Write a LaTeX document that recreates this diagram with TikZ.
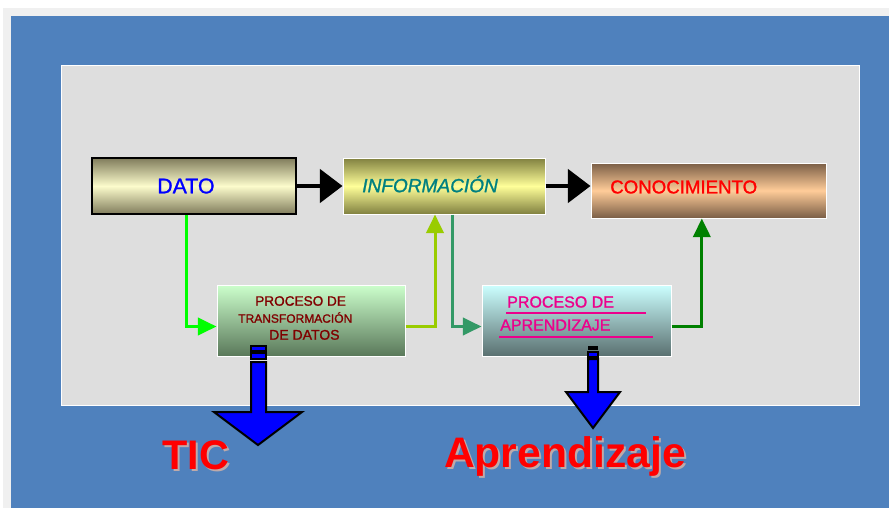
\documentclass[tikz,border=0pt]{standalone}
\usepackage{fontspec}
\setmainfont{Liberation Sans}
\newfontfamily\grueso[FakeBold=1.2]{Liberation Sans}
\usetikzlibrary{arrows.meta}
\definecolor{fondo}{RGB}{79,129,189}
\definecolor{gris}{RGB}{240,240,240}
\definecolor{panel}{RGB}{222,222,222}
\definecolor{khaki}{RGB}{128,124,92}
\definecolor{crema}{RGB}{252,252,204}
\definecolor{olivo}{RGB}{128,128,64}
\definecolor{amarillo}{RGB}{255,255,153}
\definecolor{cafe}{RGB}{122,94,70}
\definecolor{durazno}{RGB}{255,204,153}
\definecolor{verdeclaro}{RGB}{204,255,204}
\definecolor{verdegris}{RGB}{90,120,90}
\definecolor{celeste}{RGB}{204,255,255}
\definecolor{azulgris}{RGB}{90,112,112}
\definecolor{verde}{RGB}{0,255,0}
\definecolor{amarverde}{RGB}{153,204,0}
\definecolor{marverde}{RGB}{51,153,102}
\definecolor{verdeosc}{RGB}{0,128,0}
\definecolor{azul}{RGB}{0,0,255}
\definecolor{teal}{RGB}{0,128,128}
\definecolor{granate}{RGB}{128,0,0}
\definecolor{sombra}{RGB}{190,170,170}

\begin{document}
\begin{tikzpicture}[x=0.75pt,y=-0.75pt,
  caja/.style={draw=white,line width=.75pt,inner sep=0pt},
  texto/.style={anchor=west,inner sep=0pt},
  flecha/.style={line width=3pt,-{Triangle[length=17pt,width=25pt]}},
  conector/.style={line width=2.25pt,-{Triangle[length=14pt,width=13pt]}},
  bloque/.style={draw=black,line width=1.5pt,fill=azul},
  titulo/.style={font=\fontsize{31}{36}\selectfont\bfseries}]
\useasboundingbox (0,0) rectangle (889,508);
\fill[white] (0,0) rectangle (889,508);
\fill[gris] (3,8) rectangle (889,508);
\fill[fondo] (11,16) rectangle (889,508);
\draw[white,fill=panel,line width=.75pt] (61,65) rectangle (859,405);

% cajas
\node[caja,draw=black,line width=1.5pt,minimum width=153pt,minimum height=42pt,
  top color=khaki,bottom color=khaki,middle color=crema] (dato) at (194,186) {};
\node[caja,minimum width=151.5pt,minimum height=42pt,
  top color=olivo,bottom color=olivo,middle color=amarillo] (info) at (444,186) {};
\node[caja,minimum width=176.25pt,minimum height=41.25pt,
  top color=cafe,bottom color=cafe,middle color=durazno] (conoc) at (708.5,190.5) {};
\node[caja,minimum width=141pt,minimum height=53.25pt,
  top color=verdeclaro,bottom color=verdegris] (transf) at (311,320.5) {};
\node[caja,minimum width=141.75pt,minimum height=53.25pt,
  top color=celeste,bottom color=azulgris] (aprend) at (576.5,320.5) {};

% textos
\node[texto,text=azul,font=\grueso\fontsize{16}{19}\selectfont] (tdato) at (157,186) {DATO};
\node[texto,text=teal,font=\grueso\fontsize{14.3}{17}\selectfont\itshape] (tinfo) at (362,184) {INFORMACIÓN};
\node[texto,text=red,font=\grueso\fontsize{14}{17}\selectfont] (tconoc) at (610,187) {CONOCIMIENTO};
\node[texto,text=granate,align=left,font=\grueso\fontsize{10.2}{12.75}\selectfont] (ttransf) at (238,318)
  {\hspace*{12.75pt}PROCESO DE\\{\fontsize{9}{12.75}\selectfont TRANSFORMACIÓN}\\\hspace*{23.25pt}{\fontsize{10.5}{12.75}\selectfont DE DATOS}};
\node[texto,text=magenta,align=left,font=\grueso\fontsize{12}{17.25}\selectfont] (taprend) at (500,313.5)
  {\hspace*{5.25pt}PROCESO DE\\APRENDIZAJE};
\draw[magenta,line width=1.2pt] (506,313) -- (646,313);
\draw[magenta,line width=1.2pt] (499,337) -- (653,337);

% flechas
\draw[flecha] (dato.east) -- (info.west);
\draw[flecha] (info.east) -- (info.east -| conoc.west);
\draw[conector,verde] ([xshift=-6pt]dato.south) |- ([yshift=-4.5pt]transf.west);
\draw[conector,amarverde] ([yshift=-4.5pt]transf.east) -| ([xshift=-6.75pt]info.south);
\draw[conector,marverde] ([xshift=6pt]info.south) |- ([yshift=-4.5pt]aprend.west);
\draw[conector,verdeosc] ([yshift=-4.5pt]aprend.east) -| ([xshift=-5pt]conoc.south);

% flechas de bloque
\draw[bloque] (251,346) rectangle (266,351);
\draw[bloque] (251,353) rectangle (266,359);
\draw[bloque] (251,362) -- (266,362) -- (266,412) -- (302,412) -- (258,445) -- (214,412) -- (251,412) -- cycle;
\fill[black] (588,346) rectangle (598,350);
\draw[bloque] (588,352) rectangle (598,357);
\draw[bloque] (588,359) -- (598,359) -- (598,392) -- (620,392) -- (593,428) -- (566,392) -- (588,392) -- cycle;

\node[titulo,text=sombra] (ticsombra) at (198,457) {TIC};
\node[titulo,text=red] (tic) at (196,455) {TIC};
\node[titulo,text=sombra,font=\fontsize{32}{36}\selectfont\bfseries] (aprsombra) at (567,458) {Aprendizaje};
\node[titulo,text=red,font=\fontsize{32}{36}\selectfont\bfseries] (apr) at (565,456) {Aprendizaje};
\end{tikzpicture}
\end{document}
